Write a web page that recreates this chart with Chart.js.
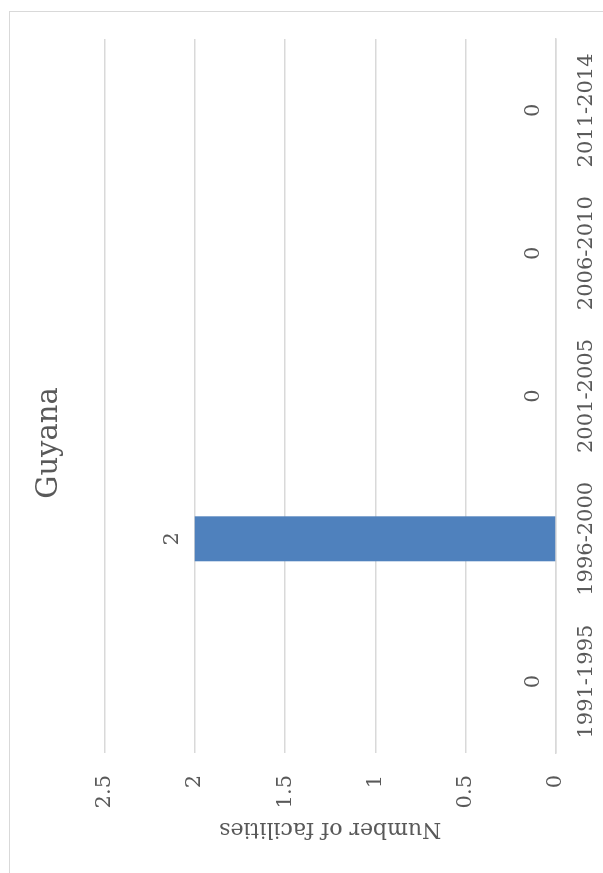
<!DOCTYPE html>
<html>
<head>
<meta charset="utf-8">
<script src="https://cdn.jsdelivr.net/npm/chart.js@4/dist/chart.umd.min.js"></script>
<style>
  html, body { margin: 0; padding: 0; background: #fff; overflow: hidden; }
  body { width: 603px; height: 873px; position: relative; }
  /* the whole chart is drawn landscape, then turned a quarter left */
  #wrap {
    position: absolute; left: 0; top: 0;
    width: 873px; height: 603px;
    transform-origin: 0 0;
    transform: translate(0, 873px) rotate(-90deg);
    overflow: hidden;
    background: #fff;
  }
  #frame {
    position: absolute; left: -2px; top: 9px;
    width: 864px; height: 700px;
    border: 1.5px solid #d9d9d9;
    box-sizing: border-box;
  }
  #chart { position: absolute; left: 0; top: 0; }
</style>
</head>
<body>
<div id="wrap">
  <div id="frame"></div>
  <canvas id="chart" width="873" height="603"></canvas>
</div>
<script>
const chartTitle = "Guyana";
const axisTitle = "Number of facilities";
const categories = ["1991-1995", "1996-2000", "2001-2005", "2006-2010", "2011-2014"];
const facilities = [0, 2, 0, 0, 0];
const valueTicks = [0, 0.5, 1, 1.5, 2, 2.5];
const valueTickLabels = ["0", "0.5", "1", "1.5", "2", "2.5"];

const textColor = "#595959";
const gridColor = "#d9d9d9";
const fontFamily = "'DejaVu Serif', 'Liberation Serif', serif";

// bar value labels, placed from the bar elements the library laid out
const valueLabels = {
  id: "valueLabels",
  afterDatasetsDraw(chart) {
    const ctx = chart.ctx;
    const meta = chart.getDatasetMeta(0);
    ctx.save();
    ctx.font = "21px " + fontFamily;
    ctx.fillStyle = textColor;
    ctx.textAlign = "center";
    ctx.textBaseline = "alphabetic";
    meta.data.forEach((bar, i) => {
      ctx.fillText(String(facilities[i]), bar.x, bar.y - 17);
    });
    ctx.restore();
  },
};

new Chart(document.getElementById("chart").getContext("2d"), {
  type: "bar",
  data: {
    labels: categories,
    datasets: [
      {
        label: axisTitle,
        data: facilities,
        backgroundColor: "#4f81bd",
        borderWidth: 0,
        categoryPercentage: 1,
        barPercentage: 0.315,
      },
    ],
  },
  options: {
    responsive: false,
    animation: false,
    devicePixelRatio: 1,
    layout: { padding: { left: 26, right: 39, top: 0, bottom: 0 } },
    plugins: {
      legend: { display: false },
      tooltip: { enabled: false },
      title: {
        display: true,
        text: chartTitle,
        color: textColor,
        font: { family: fontFamily, size: 29, weight: "normal", lineHeight: 1.2 },
        padding: { top: 32.2, bottom: 37.5 },
      },
    },
    scales: {
      x: {
        grid: { display: false, drawTicks: false },
        border: { display: true, color: gridColor, width: 1.5 },
        ticks: {
          color: textColor,
          padding: 18,
          maxRotation: 0,
          font: { family: fontFamily, size: 21 },
        },
        afterFit: (s) => { s.height = 47; },
      },
      y: {
        min: 0,
        max: 2.5,
        afterBuildTicks: (s) => { s.ticks = valueTicks.map((v) => ({ value: v })); },
        grid: { color: gridColor, lineWidth: 1.5, drawTicks: false },
        border: { display: false },
        ticks: {
          color: textColor,
          padding: 22,
          font: { family: fontFamily, size: 21 },
          callback: (v, i) => valueTickLabels[i],
        },
        title: {
          display: true,
          text: axisTitle,
          color: textColor,
          font: { family: fontFamily, size: 22, lineHeight: 1.2 },
          padding: { top: 5, bottom: 0 },
        },
        afterFit: (s) => { s.width = 94; },
      },
    },
  },
  plugins: [valueLabels],
});
</script>
</body>
</html>
